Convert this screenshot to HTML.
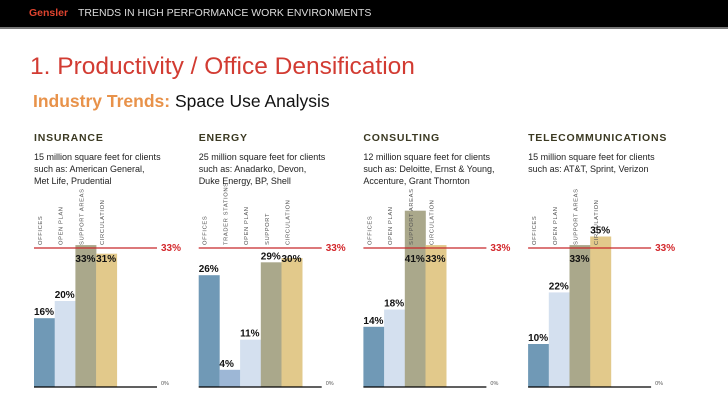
<!DOCTYPE html>
<html><head><meta charset="utf-8">
<style>
body{margin:0;width:728px;height:410px;overflow:hidden;background:#fff;font-family:"Liberation Sans",sans-serif;}
#hdr{position:absolute;left:0;top:0;width:728px;height:27px;background:#000;border-bottom:2px solid #777;}
#hdr span{position:absolute;top:7px;font-size:10.5px;}
#title{position:absolute;left:30px;top:53px;font-size:24.5px;color:#d23b32;}
#sub{position:absolute;left:33px;top:91px;font-size:17.5px;color:#111;}
#sub b{color:#e8924a;}
</style></head><body>
<div id="hdr">
<span style="left:29px;color:#e0442f;font-weight:bold">Gensler</span>
<span style="left:78px;color:#ddd;">TRENDS IN HIGH PERFORMANCE WORK ENVIRONMENTS</span>
</div>
<div id="title">1. Productivity / Office Densification</div>
<div id="sub"><b>Industry Trends:</b> Space Use Analysis</div>
<svg id="chart" width="728" height="410" style="position:absolute;left:0;top:0"></svg>
<script>
const panelTitles=["INSURANCE","ENERGY","CONSULTING","TELECOMMUNICATIONS"];
const panelDesc=[["15 million square feet for clients","such as: American General,","Met Life, Prudential"],["25 million square feet for clients","such as: Anadarko, Devon,","Duke Energy, BP, Shell"],["12 million square feet for clients","such as: Deloitte, Ernst & Young,","Accenture, Grant Thornton"],["15 million square feet for clients","such as: AT&T, Sprint, Verizon"]];
const categories=[["OFFICES","OPEN PLAN","SUPPORT AREAS","CIRCULATION"],["OFFICES","TRADER STATIONS","OPEN PLAN","SUPPORT","CIRCULATION"],["OFFICES","OPEN PLAN","SUPPORT AREAS","CIRCULATION"],["OFFICES","OPEN PLAN","SUPPORT AREAS","CIRCULATION"]];
const values=[[16,20,33,31],[26,4,11,29,30],[14,18,41,33],[10,22,33,35]];
const benchmark=33;
const colorMap={"OFFICES":"#7099b6","OPEN PLAN":"#d4e0ef","SUPPORT AREAS":"#aaa88b","SUPPORT":"#aaa88b","CIRCULATION":"#e2c98b","TRADER STATIONS":"#9db7d6"};
const svg=document.getElementById('chart');
const NS="http://www.w3.org/2000/svg";
const base=387,lineY=248,pxPer=4.3;
const y=v=>base-pxPer*v;
function mk(tag,attrs,txt){const e=document.createElementNS(NS,tag);for(const k in attrs)e.setAttribute(k,attrs[k]);if(txt!==undefined)e.textContent=txt;svg.appendChild(e);return e;}
panelTitles.forEach((t,p)=>{
 const x0=34+p*164.7;
 const h=mk('text',{x:x0,y:141,'font-size':10.5,'font-weight':'bold',fill:'#3b3922','letter-spacing':'0.8'},t);
 
 
 panelDesc[p].forEach((l,i)=>{const d=mk('text',{x:x0,y:160+i*12,'font-size':9,fill:'#222'},l);
  
  });
 const bw=20.7;
 values[p].forEach((v,i)=>{
  const bx=x0+i*bw,top=y(v);
  const r=mk('rect',{x:bx,y:top,width:bw+0.3,height:base-top,fill:colorMap[categories[p][i]]});
  
  
  const c=mk('text',{transform:`translate(${bx+8},245) rotate(-90)`,'font-size':5.8,fill:'#555','letter-spacing':'0.6'},categories[p][i]);
  
  
 });
 const ln=mk('line',{x1:x0,x2:x0+123,y1:lineY,y2:lineY,stroke:'#c8282b','stroke-width':1.2});
 
 
 const bl=mk('text',{x:x0+127,y:lineY+3,'font-size':10,'font-weight':'bold',fill:'#d3282c'},benchmark+'%');
 
 
 values[p].forEach((v,i)=>{
  const bx=x0+i*bw;let b=y(v)-3;
  if(b<258)b=(v>=35&&v<=38)?b:262;
  const t=mk('text',{x:bx,y:b,'font-size':10,'font-weight':'bold',fill:'#111'},v+'%');
  
  
 });
 const ax=mk('line',{x1:x0,x2:x0+123,y1:base,y2:base,stroke:'#000','stroke-width':1.3});
 
 
 const z=mk('text',{x:x0+127,y:base-2,'font-size':5.5,fill:'#555'},'0%');
 
 
});
</script>
</body></html>
